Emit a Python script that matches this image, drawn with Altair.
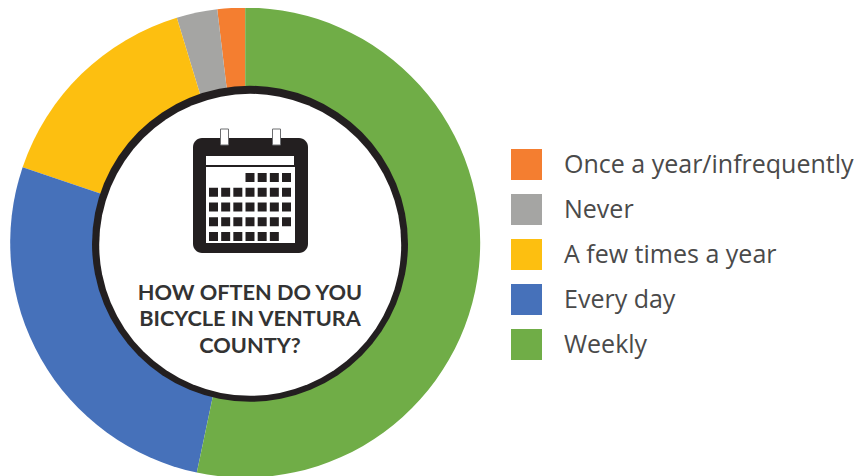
import altair as alt
import pandas as pd

categories = ["Once a year/infrequently", "Never", "A few times a year", "Every day", "Weekly"]
colors = ["#F47E30", "#A5A5A3", "#FDBF10", "#4671BA", "#70AD47"]
shares = [1.9, 2.8, 15.1, 26.9, 53.3]
clockwise_order = [5, 4, 3, 2, 1]
title_lines = ["HOW OFTEN DO YOU", "BICYCLE IN VENTURA", "COUNTY?"]
cal_rows = [0, 0, 0, 0,
            1, 1, 1, 1, 1, 1, 1,
            2, 2, 2, 2, 2, 2, 2,
            3, 3, 3, 3, 3, 3, 3,
            4, 4, 4, 4, 4, 4]
cal_cols = [3, 4, 5, 6,
            0, 1, 2, 3, 4, 5, 6,
            0, 1, 2, 3, 4, 5, 6,
            0, 1, 2, 3, 4, 5, 6,
            0, 1, 2, 3, 4, 5]

OX, OY = 8, 8
def px(v): return alt.value(v - OX)
def py(v): return alt.value(v - OY)

df = pd.DataFrame({"category": categories, "share": shares, "o": clockwise_order})
one = alt.Data(values=[{"a": 1}])

donut = alt.Chart(df).mark_arc(outerRadius=235, innerRadius=0).encode(
    x=px(245.2), y=py(242.6),
    theta=alt.Theta("share:Q", stack=True),
    order=alt.Order("o:Q"),
    color=alt.Color(
        "category:N",
        scale=alt.Scale(domain=categories, range=colors),
        legend=alt.Legend(
            title=None, orient="none", legendX=503, legendY=141,
            symbolType="square", symbolSize=961, symbolStrokeWidth=0, symbolOpacity=1,
            labelFont="Open Sans", labelFontSize=25, labelColor="#4A4A4A",
            labelOffset=22, rowPadding=14, labelLimit=330,
        ),
    ),
)

ring = alt.Chart(one).mark_arc(
    innerRadius=0, outerRadius=158, theta=0, theta2=6.2832, color="#231F20"
).encode(x=px(250), y=py(243.8))
hole = alt.Chart(one).mark_arc(
    innerRadius=0, outerRadius=151, theta=0, theta2=6.2832, color="#FFFFFF"
).encode(x=px(250.2), y=py(244.8))

def box(x0, x1, y0, y1, color, radius=0, stroke=None):
    kw = {"color": color}
    if radius:
        kw["cornerRadius"] = radius
    if stroke:
        kw.update(stroke=stroke, strokeWidth=1)
    return alt.Chart(one).mark_rect(**kw).encode(x=px(x0), x2=px(x1), y=py(y0), y2=py(y1))

body = box(193, 308, 138, 253, "#231F20", radius=9)
header = box(206, 294, 156, 165, "#FFFFFF")
page = box(206, 295, 167, 243, "#FFFFFF")
clip_a = box(220.5, 228.5, 129, 145, "#FFFFFF", stroke="#6D6E71")
clip_b = box(272.5, 280.5, 129, 145, "#FFFFFF", stroke="#6D6E71")

cells = alt.Chart(pd.DataFrame({"r": cal_rows, "c": cal_cols})).mark_square(
    size=81, color="#231F20", opacity=1
).encode(
    x=alt.X("c:Q", axis=None, scale=alt.Scale(domain=[0, 6], range=[205.5, 278.5])),
    y=alt.Y("r:Q", axis=None, scale=alt.Scale(domain=[0, 4], range=[169.5, 228.5])),
)

title = alt.Chart(pd.DataFrame({"t": title_lines, "i": [0, 1, 2]})).mark_text(
    font="Lato", fontWeight="bold", fontSize=21.7, color="#333333", align="center", baseline="middle"
).encode(
    x=px(250),
    y=alt.Y("i:Q", axis=None, scale=alt.Scale(domain=[0, 2], range=[284.5, 338])),
    text="t:N",
)

chart = alt.layer(donut, ring, hole, body, header, page, clip_a, clip_b, cells, title).resolve_scale(
    x="independent", y="independent"
).properties(width=850, height=468, padding=0, autosize=alt.AutoSizeParams(type="none")).configure_view(stroke=None)

chart.save("out.html", embed_options={"renderer": "svg", "actions": False})
